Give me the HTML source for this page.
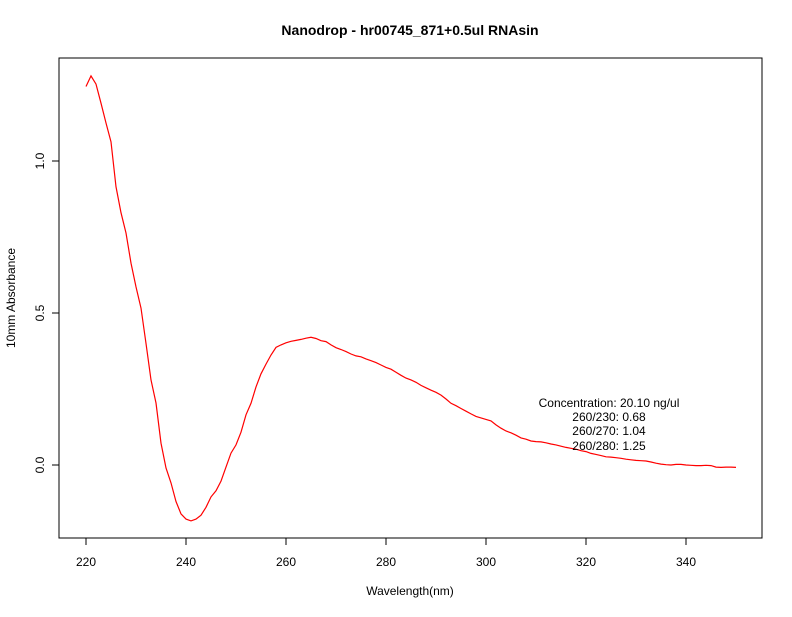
<!DOCTYPE html>
<html><head><meta charset="utf-8"><style>
body{margin:0;background:#fff}
svg text{font-family:"Liberation Sans",sans-serif;fill:#000}
</style></head><body>
<svg width="792" height="612" viewBox="0 0 792 612" xmlns="http://www.w3.org/2000/svg">
<rect width="792" height="612" fill="#fff"/>
<text x="410" y="35" text-anchor="middle" font-size="14" font-weight="bold">Nanodrop - hr00745_871+0.5ul RNAsin</text>
<rect x="59" y="58" width="703" height="480" fill="none" stroke="#000" stroke-width="1"/>
<g id="xaxis"></g>
<g id="yaxis"></g>
<text x="410" y="595" text-anchor="middle" font-size="12">Wavelength(nm)</text>
<text transform="translate(15,298) rotate(-90)" text-anchor="middle" font-size="12">10mm Absorbance</text>
<polyline id="spectrum" fill="none" stroke="#ff0000" stroke-width="1.2"/>
<g font-size="12">
<text x="609" y="407" text-anchor="middle">Concentration: 20.10 ng/ul</text>
<text x="609" y="421" text-anchor="middle">260/230: 0.68</text>
<text x="609" y="435" text-anchor="middle">260/270: 1.04</text>
<text x="609" y="450" text-anchor="middle">260/280: 1.25</text>
</g>
</svg>
<script>
const startWavelength = 220;
const absorbance = [1.245,1.28,1.253,1.19,1.125,1.063,0.915,0.83,0.763,0.664,0.586,0.516,0.40,0.28,0.204,0.072,-0.01,-0.059,-0.12,-0.161,-0.178,-0.184,-0.178,-0.165,-0.139,-0.105,-0.085,-0.053,-0.007,0.039,0.066,0.108,0.165,0.203,0.257,0.30,0.332,0.362,0.387,0.395,0.402,0.407,0.41,0.413,0.417,0.42,0.416,0.409,0.406,0.395,0.386,0.38,0.373,0.365,0.359,0.356,0.349,0.343,0.337,0.329,0.321,0.315,0.305,0.295,0.286,0.28,0.272,0.262,0.254,0.246,0.239,0.23,0.217,0.203,0.195,0.186,0.177,0.168,0.16,0.155,0.15,0.145,0.132,0.121,0.112,0.106,0.098,0.089,0.085,0.079,0.077,0.076,0.073,0.069,0.066,0.062,0.058,0.055,0.052,0.047,0.044,0.038,0.035,0.031,0.027,0.026,0.024,0.022,0.019,0.017,0.015,0.014,0.013,0.01,0.006,0.003,0.001,0.0,0.002,0.002,0.0,-0.001,-0.002,-0.002,-0.001,-0.002,-0.007,-0.008,-0.007,-0.007,-0.008];
const xTicks = [220,240,260,280,300,320,340];
const yTicks = [0.0,0.5,1.0];
const yTickLabels = ["0.0","0.5","1.0"];
const NS="http://www.w3.org/2000/svg";
function xs(v){return 86+(v-220)*5;}
function ys(v){return 465-v*304;}
const pts = absorbance.map((a,i)=>xs(startWavelength+i).toFixed(1)+","+ys(a).toFixed(1)).join(" ");
document.getElementById("spectrum").setAttribute("points",pts);
const xg=document.getElementById("xaxis");
const xl=document.createElementNS(NS,"line");


xl.setAttribute("x1",xs(xTicks[0]));xl.setAttribute("x2",xs(xTicks[xTicks.length-1]));
xl.setAttribute("y1",538);xl.setAttribute("y2",538);xl.setAttribute("stroke","#000");
xg.appendChild(xl);
xTicks.forEach(t=>{
 const l=document.createElementNS(NS,"line");
 
 
 l.setAttribute("x1",xs(t));l.setAttribute("x2",xs(t));l.setAttribute("y1",538);l.setAttribute("y2",545);l.setAttribute("stroke","#000");
 xg.appendChild(l);
 const tx=document.createElementNS(NS,"text");
 
 
 tx.setAttribute("x",xs(t));tx.setAttribute("y",566);tx.setAttribute("text-anchor","middle");tx.setAttribute("font-size","12");
 tx.textContent=t;xg.appendChild(tx);
});
const yg=document.getElementById("yaxis");
const yl=document.createElementNS(NS,"line");


yl.setAttribute("x1",59);yl.setAttribute("x2",59);
yl.setAttribute("y1",ys(yTicks[0]));yl.setAttribute("y2",ys(yTicks[yTicks.length-1]));yl.setAttribute("stroke","#000");
yg.appendChild(yl);
yTicks.forEach((t,i)=>{
 const l=document.createElementNS(NS,"line");
 
 
 l.setAttribute("x1",52);l.setAttribute("x2",59);l.setAttribute("y1",ys(t));l.setAttribute("y2",ys(t));l.setAttribute("stroke","#000");
 yg.appendChild(l);
 const tx=document.createElementNS(NS,"text");
 
 
 tx.setAttribute("transform","translate(44,"+ys(t)+") rotate(-90)");tx.setAttribute("text-anchor","middle");tx.setAttribute("font-size","12");
 tx.textContent=yTickLabels[i];yg.appendChild(tx);
});
</script>
</body></html>
